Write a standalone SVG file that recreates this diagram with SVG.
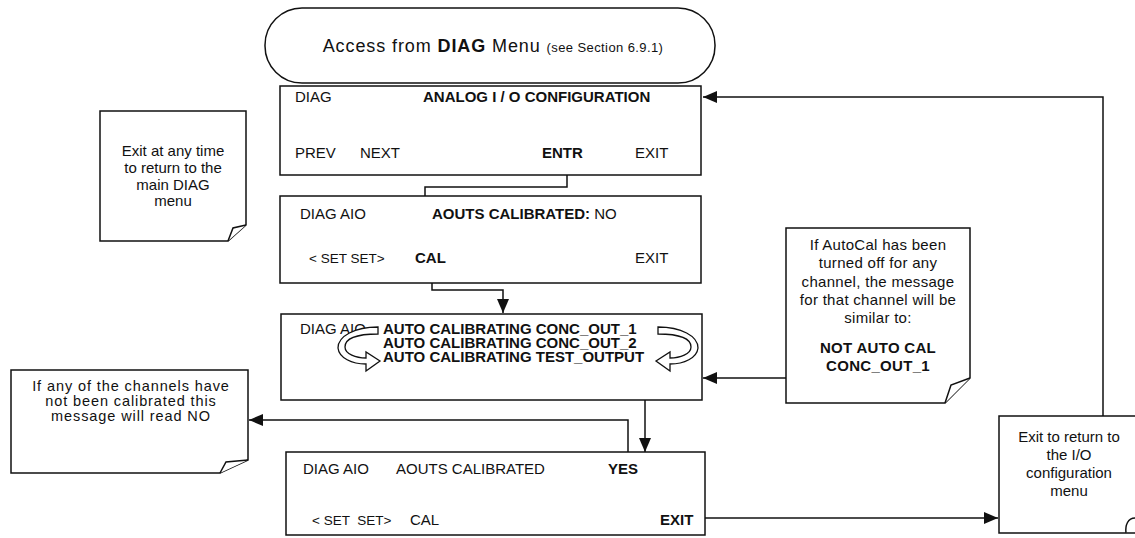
<svg xmlns="http://www.w3.org/2000/svg" width="1135" height="538" viewBox="0 0 1135 538">
<style>
.box{fill:#fff;stroke:#111;stroke-width:1.5}
.t{font-family:"Liberation Sans",Arial,sans-serif;font-size:15px;fill:#111}
.b{font-weight:bold}
.pre{white-space:pre;font-size:13.5px}
.n{font-family:"Liberation Sans",Arial,sans-serif;font-size:15px;fill:#111;text-anchor:middle}
.conn{fill:none;stroke:#111;stroke-width:1.5}
.carrow{fill:#fff;stroke:#111;stroke-width:1.3}
</style>
<defs>
<marker id="ah" viewBox="0 0 14 12" markerWidth="14" markerHeight="12" refX="14" refY="6" orient="auto" markerUnits="userSpaceOnUse"><path d="M0,0 L14,6 L0,12 Z" fill="#111"/></marker>
</defs>
<rect width="1135" height="538" fill="#fff"/>

<g id="connectors">
<path class="conn" d="M567,175 V187 H425 V252" marker-end="url(#ah)"/>
<path class="conn" d="M432,283 V290 H503 V313" marker-end="url(#ah)"/>
<path class="conn" d="M645,400 V452" marker-end="url(#ah)"/>
<path class="conn" d="M628,452 V420 H249" marker-end="url(#ah)"/>
<path class="conn" d="M786,378 H703" marker-end="url(#ah)"/>
<path class="conn" d="M1103,416 V97 H703" marker-end="url(#ah)"/>
<path class="conn" d="M694,518 H998" marker-end="url(#ah)"/>
</g>

<g id="start">
<rect class="box" x="265" y="8" width="450" height="75" rx="37"/>
<text class="t" x="493" y="52" text-anchor="middle" style="font-size:18px;letter-spacing:0.9px">Access from <tspan class="b">DIAG</tspan> Menu <tspan style="font-size:13px;letter-spacing:0.4px">(see Section 6.9.1)</tspan></text>
</g>

<g id="menu-analog">
<rect class="box" x="280" y="86" width="421" height="89"/>
<text class="t" x="295" y="102">DIAG</text>
<text class="t b" x="423" y="102">ANALOG I / O CONFIGURATION</text>
<text class="t" x="295" y="158">PREV</text>
<text class="t" x="360" y="158">NEXT</text>
<text class="t b" x="542" y="158">ENTR</text>
<text class="t" x="635" y="158">EXIT</text>
</g>

<g id="menu-aio">
<rect class="box" x="280" y="196" width="421" height="87"/>
<text class="t" x="300" y="219">DIAG AIO</text>
<text class="t" x="432" y="219"><tspan class="b">AOUTS CALIBRATED:</tspan> NO</text>
<text class="t pre" x="309" y="263">&lt; SET SET&gt;</text>
<text class="t b" x="415" y="263">CAL</text>
<text class="t" x="635" y="263">EXIT</text>
</g>

<g id="menu-calibrating">
<rect class="box" x="281" y="314" width="421" height="86"/>
<text class="t" x="300" y="334">DIAG AIO</text>
<text class="t b" x="383" y="334">AUTO CALIBRATING CONC_OUT_1</text>
<text class="t b" x="383" y="348">AUTO CALIBRATING CONC_OUT_2</text>
<text class="t b" x="383" y="362">AUTO CALIBRATING TEST_OUTPUT</text>
<path class="carrow" d="M378,327 C355,327 338,336 338,348 C339,358 352,364 366,364 L366,371 L380,361 L366,352 L366,358 C356,358 345,354 345,347 C345,339 356,334 378,334 Z"/>
<path class="carrow" transform="translate(1036,0) scale(-1,1)" d="M378,327 C355,327 338,336 338,348 C339,358 352,364 366,364 L366,371 L380,361 L366,352 L366,358 C356,358 345,354 345,347 C345,339 356,334 378,334 Z"/>
</g>

<g id="menu-result">
<rect class="box" x="286" y="452" width="419" height="83"/>
<text class="t" x="303" y="474">DIAG AIO</text>
<text class="t" x="396" y="474">AOUTS CALIBRATED</text>
<text class="t b" x="608" y="474">YES</text>
<text class="t pre" x="312" y="525">&lt; SET  SET&gt;</text>
<text class="t" x="410" y="525">CAL</text>
<text class="t b" x="660" y="525">EXIT</text>
</g>

<g id="note-exit-any">
<path class="box" d="M100,111 H246 V225 L228,241 H100 Z"/>
<path class="box" d="M246,225 L233,228 L228,241"/>
<text class="n" x="173" y="156">Exit at any time</text>
<text class="n" x="173" y="173">to return to the</text>
<text class="n" x="173" y="190">main DIAG</text>
<text class="n" x="173" y="206">menu</text>
</g>

<g id="note-not-calibrated">
<path class="box" d="M11,370 H248 V460 L220,473 H11 Z"/>
<path class="box" d="M248,460 L226,462 L220,473"/>
<text class="n" x="131" y="391" style="font-size:14.5px;letter-spacing:0.9px">If any of the channels have</text>
<text class="n" x="131" y="406" style="font-size:14.5px;letter-spacing:0.9px">not been calibrated this</text>
<text class="n" x="131" y="421" style="font-size:14.5px;letter-spacing:0.9px">message will read NO</text>
</g>

<g id="note-autocal">
<path class="box" d="M786,228 H970 V378 L945,403 H786 Z"/>
<path class="box" d="M970,378 L951,385 L945,403"/>
<text class="n" x="878" y="250" style="letter-spacing:0.3px">If AutoCal has been</text>
<text class="n" x="878" y="268" style="letter-spacing:0.3px">turned off for any</text>
<text class="n" x="878" y="287" style="letter-spacing:0.3px">channel, the message</text>
<text class="n" x="878" y="305" style="letter-spacing:0.3px">for that channel will be</text>
<text class="n" x="878" y="323" style="letter-spacing:0.3px">similar to:</text>
<text class="n b" x="878" y="353" style="letter-spacing:0.3px">NOT AUTO CAL</text>
<text class="n b" x="878" y="371" style="letter-spacing:0.3px">CONC_OUT_1</text>
</g>

<g id="note-exit-io">
<path class="box" d="M999,416 H1145 V533 H999 Z"/>
<path class="box" d="M1135,518 C1128,518 1125,525 1126,533"/>
<text class="n" x="1069" y="442">Exit to return to</text>
<text class="n" x="1069" y="460">the I/O</text>
<text class="n" x="1069" y="478">configuration</text>
<text class="n" x="1069" y="496">menu</text>
</g>
</svg>
